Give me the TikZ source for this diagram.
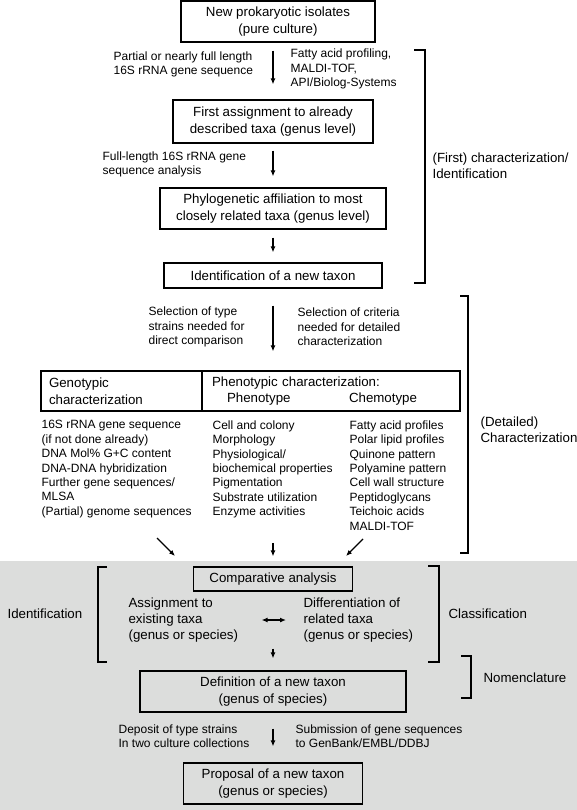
\documentclass[tikz,border=0pt]{standalone}
\usepackage{fontspec}
\setmainfont{Liberation Sans}
\usetikzlibrary{arrows.meta}
\definecolor{hellgrau}{RGB}{220,221,220}

\tikzset{
	kasten/.style={draw,line width=1.2pt,align=center,inner sep=0pt,font=\fontsize{13.3}{16.5}\selectfont},
	gross/.style={inner sep=0pt,align=left,font=\fontsize{13.3}{16}\selectfont},
	klein/.style={inner sep=0pt,align=left,font=\fontsize{12}{14.4}\selectfont},
}

\begin{document}
\begin{tikzpicture}[>={Latex[length=6pt,width=5pt]},x=1pt,y=-1pt,line width=1.2pt]

\def\klammer#1#2#3#4{
	\draw[line width=1.8pt] (#2,#3) -- (#1,#3) -- (#1,#4) -- (#2,#4);
}

\useasboundingbox (0,0) rectangle (577,810);
\fill[hellgrau] (0,561) rectangle (577,810);

\node[kasten,minimum width=194pt,minimum height=41pt] (isolate) at (278,21.5) {New prokaryotic isolates\\(pure culture)};
\node[kasten,minimum width=200pt,minimum height=43pt] (erste) at (273,121.5) {First assignment to already\\described taxa (genus level)};
\node[kasten,minimum width=226pt,minimum height=41pt] (phylo) at (273,208.5) {Phylogenetic affiliation to most\\closely related taxa (genus level)};
\node[kasten,minimum width=218pt,minimum height=25pt] (neu) at (273,275.5) {Identification of a new taxon};

\node[klein,anchor=west] (partiell) at (113,64.5) {Partial or nearly full length\\16S rRNA gene sequence};
\node[klein,anchor=west] (fettsaeure) at (290,69) {Fatty acid profiling,\\MALDI-TOF,\\API/Biolog-Systems};
\node[klein,anchor=west] (volllaenge) at (102,164.5) {Full-length 16S rRNA gene\\sequence analysis};
\node[klein,anchor=west] (typstaemme) at (148,327) {Selection of type\\strains needed for\\direct comparison};
\node[klein,anchor=west] (kriterien) at (297,327) {Selection of criteria\\needed for detailed\\characterization};

\node[gross,anchor=west] (erstchar) at (432,166) {(First) characterization/\\Identification};
\node[gross,anchor=west] (detchar) at (480,430) {(Detailed)\\Characterization};

\node[kasten,minimum width=161pt,minimum height=40pt,text width=145pt,align=left] (geno) at (121.5,391) {Genotypic\\characterization};
\node[kasten,minimum width=258pt,minimum height=40pt,text width=238pt,align=left] (pheno) at (331,391) {Phenotypic characterization:\\\makebox[137pt][l]{\hspace*{15pt}Phenotype}Chemotype};

\node[klein,anchor=north west] (genoliste) at (41,420) {16S rRNA gene sequence\\(if not done already)\\DNA Mol\% G+C content\\DNA-DNA hybridization\\Further gene sequences/\\MLSA\\(Partial) genome sequences};
\node[klein,anchor=north west] (phenoliste) at (212,420) {Cell and colony\\Morphology\\Physiological/\\biochemical properties\\Pigmentation\\Substrate utilization\\Enzyme activities};
\node[klein,anchor=north west] (chemoliste) at (349,420) {Fatty acid profiles\\Polar lipid profiles\\Quinone pattern\\Polyamine pattern\\Cell wall structure\\Peptidoglycans\\Teichoic acids\\MALDI-TOF};

\node[kasten,minimum width=159pt,minimum height=24pt] (vergleich) at (273,579) {Comparative analysis};
\node[gross,anchor=west] (zuordnung) at (128,620) {Assignment to\\existing taxa\\(genus or species)};
\node[gross,anchor=west] (abgrenzung) at (303,620) {Differentiation of\\related taxa\\(genus or species)};
\node[kasten,minimum width=266pt,minimum height=41pt] (definition) at (273,691.5) {Definition of a new taxon\\(genus of species)};
\node[klein,anchor=west] (hinterlegung) at (118,736) {Deposit of type strains\\In two culture collections};
\node[klein,anchor=west] (einreichung) at (295,736) {Submission of gene sequences\\to GenBank/EMBL/DDBJ};
\node[kasten,minimum width=179pt,minimum height=41pt] (vorschlag) at (273,783.5) {Proposal of a new taxon\\(genus or species)};

\node[gross,anchor=west] (ident) at (7,614) {Identification};
\node[gross,anchor=west] (klass) at (448,614) {Classification};
\node[gross,anchor=west] (nomen) at (483,678) {Nomenclature};

\coordinate (genoende) at (157,538);
\coordinate (genospitze) at (175,556);
\coordinate (chemoende) at (363,539);
\coordinate (chemospitze) at (346,556);

\draw[->,shorten <=8pt,shorten >=15pt] (isolate.south -| erste.north) -- (erste.north);
\draw[->,shorten <=7pt,shorten >=11pt] (erste.south) -- (phylo.north);
\draw[->,shorten <=8pt,shorten >=10pt] (phylo.south) -- (neu.north);
\draw[->,shorten <=17pt,shorten >=19pt] (neu.south) -- (neu.south |- pheno.north);
\draw[->] (genoende) -- (genospitze);
\draw[->,shorten <=24pt,shorten >=10pt] (phenoliste.south -| vergleich.north) -- (vergleich.north);
\draw[->] (chemoende) -- (chemospitze);
\draw[<->,shorten <=23pt,shorten >=17pt] (zuordnung.east) -- (abgrenzung.west);
\draw[->,shorten <=57pt,shorten >=12pt] (vergleich.south) -- (definition.north);
\draw[->,shorten <=16pt,shorten >=16pt] (definition.south) -- (vorschlag.north);

\klammer{425}{414}{50}{283}
\klammer{468}{460}{296}{553}
\klammer{98}{107}{567}{662}
\klammer{439}{428}{566}{662}
\klammer{471}{461}{656}{698}

\end{tikzpicture}
\end{document}
